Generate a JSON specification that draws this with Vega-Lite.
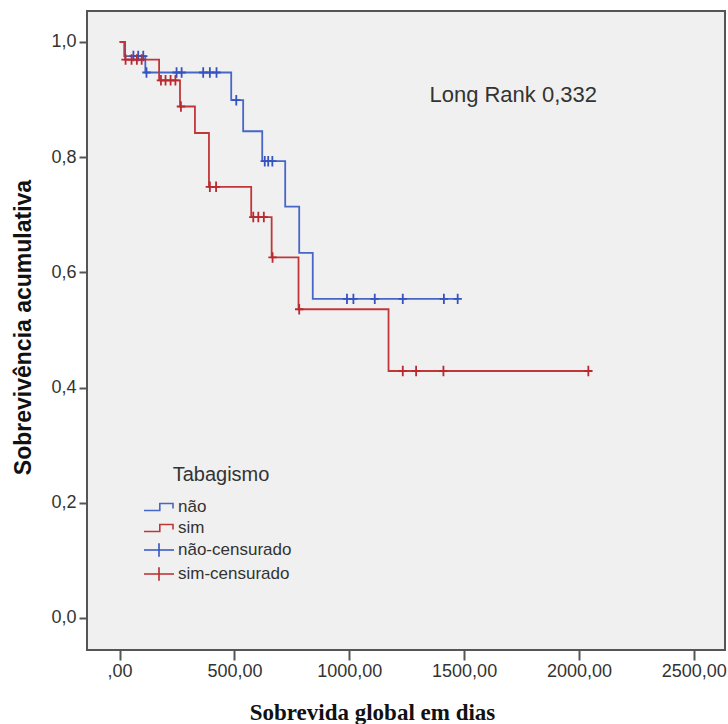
{
  "$schema": "https://vega.github.io/schema/vega-lite/v6.json",
  "width": 638,
  "height": 639,
  "autosize": {"type": "none"},
  "padding": {"left": 87, "top": 11, "right": 3, "bottom": 74},
  "background": "white",
  "config": {
    "font": "Liberation Sans",
    "view": {"fill": "#f0f0f0", "stroke": "#555555", "strokeWidth": 2}
  },
  "datasets": {
    "curvas": [
      {"grupo": "não", "t": 0, "s": 1.0},
      {"grupo": "não", "t": 20, "s": 0.9755},
      {"grupo": "não", "t": 112, "s": 0.947},
      {"grupo": "não", "t": 486, "s": 0.899},
      {"grupo": "não", "t": 538, "s": 0.845},
      {"grupo": "não", "t": 621, "s": 0.793},
      {"grupo": "não", "t": 721, "s": 0.714},
      {"grupo": "não", "t": 782, "s": 0.634},
      {"grupo": "não", "t": 841, "s": 0.554},
      {"grupo": "não", "t": 1472, "s": 0.554},
      {"grupo": "sim", "t": 0, "s": 1.0},
      {"grupo": "sim", "t": 24, "s": 0.9694},
      {"grupo": "sim", "t": 172, "s": 0.9335},
      {"grupo": "sim", "t": 263, "s": 0.888},
      {"grupo": "sim", "t": 328, "s": 0.842},
      {"grupo": "sim", "t": 389, "s": 0.7486},
      {"grupo": "sim", "t": 573, "s": 0.696},
      {"grupo": "sim", "t": 662, "s": 0.626},
      {"grupo": "sim", "t": 779, "s": 0.536},
      {"grupo": "sim", "t": 1171, "s": 0.4288},
      {"grupo": "sim", "t": 2041, "s": 0.4288}
    ],
    "censuras": [
      {"grupo": "não-censurado", "t": 60, "s": 0.9755},
      {"grupo": "não-censurado", "t": 81, "s": 0.9755},
      {"grupo": "não-censurado", "t": 103, "s": 0.9755},
      {"grupo": "não-censurado", "t": 117, "s": 0.947},
      {"grupo": "não-censurado", "t": 248, "s": 0.947},
      {"grupo": "não-censurado", "t": 270, "s": 0.947},
      {"grupo": "não-censurado", "t": 364, "s": 0.947},
      {"grupo": "não-censurado", "t": 393, "s": 0.947},
      {"grupo": "não-censurado", "t": 422, "s": 0.947},
      {"grupo": "não-censurado", "t": 508, "s": 0.899},
      {"grupo": "não-censurado", "t": 632, "s": 0.793},
      {"grupo": "não-censurado", "t": 647, "s": 0.793},
      {"grupo": "não-censurado", "t": 665, "s": 0.793},
      {"grupo": "não-censurado", "t": 990, "s": 0.554},
      {"grupo": "não-censurado", "t": 1018, "s": 0.554},
      {"grupo": "não-censurado", "t": 1111, "s": 0.554},
      {"grupo": "não-censurado", "t": 1233, "s": 0.554},
      {"grupo": "não-censurado", "t": 1412, "s": 0.554},
      {"grupo": "não-censurado", "t": 1472, "s": 0.554},
      {"grupo": "sim-censurado", "t": 26, "s": 0.9694},
      {"grupo": "sim-censurado", "t": 52, "s": 0.9694},
      {"grupo": "sim-censurado", "t": 75, "s": 0.9694},
      {"grupo": "sim-censurado", "t": 96, "s": 0.9694},
      {"grupo": "sim-censurado", "t": 180, "s": 0.9335},
      {"grupo": "sim-censurado", "t": 200, "s": 0.9335},
      {"grupo": "sim-censurado", "t": 222, "s": 0.9335},
      {"grupo": "sim-censurado", "t": 243, "s": 0.9335},
      {"grupo": "sim-censurado", "t": 267, "s": 0.888},
      {"grupo": "sim-censurado", "t": 393, "s": 0.7486},
      {"grupo": "sim-censurado", "t": 420, "s": 0.7486},
      {"grupo": "sim-censurado", "t": 582, "s": 0.696},
      {"grupo": "sim-censurado", "t": 604, "s": 0.696},
      {"grupo": "sim-censurado", "t": 628, "s": 0.696},
      {"grupo": "sim-censurado", "t": 666, "s": 0.626},
      {"grupo": "sim-censurado", "t": 782, "s": 0.536},
      {"grupo": "sim-censurado", "t": 1233, "s": 0.4288},
      {"grupo": "sim-censurado", "t": 1291, "s": 0.4288},
      {"grupo": "sim-censurado", "t": 1410, "s": 0.4288},
      {"grupo": "sim-censurado", "t": 2041, "s": 0.4288}
    ],
    "anotacao": [
      {"t": 1349, "s": 0.896, "texto": "Long Rank 0,332"}
    ]
  },
  "encoding": {
    "x": {
      "field": "t",
      "type": "quantitative",
      "scale": {"domain": [-142, 2636], "nice": false, "zero": false},
      "axis": {
        "title": "Sobrevida global em dias",
        "values": [0, 500, 1000, 1500, 2000, 2500],
        "grid": false,
        "domain": false,
        "tickColor": "#555555",
        "tickWidth": 2,
        "tickSize": 10,
        "labelFontSize": 18,
        "labelColor": "#333333",
        "labelPadding": 2,
        "labelExpr": "datum.value == 0 ? ',00' : replace(format(datum.value, '.2f'), '.', ',')",
        "titleFont": "Liberation Serif",
        "titleFontSize": 23,
        "titleFontWeight": "bold",
        "titleColor": "#111111",
        "titleX": 285,
        "titleY": 69,
        "titleAlign": "center",
        "titleBaseline": "alphabetic"
      }
    },
    "y": {
      "field": "s",
      "type": "quantitative",
      "scale": {"domain": [-0.0556, 1.0538], "nice": false, "zero": false},
      "axis": {
        "title": "Sobrevivência acumulativa",
        "values": [0, 0.2, 0.4, 0.6, 0.8, 1.0],
        "grid": false,
        "domain": false,
        "tickColor": "#555555",
        "tickWidth": 2,
        "tickSize": 8,
        "labelFontSize": 18,
        "labelColor": "#333333",
        "labelPadding": 3,
        "labelExpr": "replace(format(datum.value, '.1f'), '.', ',')",
        "titleFontSize": 23,
        "titleFontWeight": "bold",
        "titleColor": "#111111",
        "titleX": -57,
        "titleY": 316,
        "titleAngle": -90,
        "titleAlign": "center",
        "titleBaseline": "alphabetic"
      }
    }
  },
  "layer": [
    {
      "data": {"name": "curvas"},
      "mark": {"type": "line", "interpolate": "step-after", "strokeWidth": 1.8},
      "encoding": {
        "color": {
          "field": "grupo",
          "type": "nominal",
          "scale": {
            "domain": ["não", "sim", "não-censurado", "sim-censurado"],
            "range": ["#4666c8", "#c0373a", "#3553c0", "#b82a30"]
          },
          "legend": {
            "title": "Tabagismo",
            "orient": "none",
            "legendX": 63,
            "legendY": 454,
            "padding": 0,
            "titleFontSize": 20,
            "titleFontWeight": "normal",
            "titleColor": "#333333",
            "titleAnchor": "middle",
            "titlePadding": 13,
            "labelFontSize": 17,
            "labelColor": "#333333",
            "labelOffset": 10,
            "symbolSize": 256,
            "symbolStrokeWidth": 1.6,
            "rowPadding": 4,
            "encode": {
              "symbols": {
                "update": {
                  "shape": {"signal": "test(/censurado/, datum.value) ? 'M-1.875,0H1.875M0,-0.84V0.84' : 'M-1.875,0.44H0.1V-0.44H1.75V0.19'"},
                  "fill": {"value": "transparent"},
                  "strokeWidth": {"value": 1.6}
                }
              }
            }
          }
        }
      }
    },
    {
      "data": {"name": "censuras"},
      "mark": {"type": "point", "shape": "M-0.8,0H0.8M0,-1V1", "filled": false, "size": 110, "strokeWidth": 1.8, "opacity": 1},
      "encoding": {
        "color": {"field": "grupo", "type": "nominal"}
      }
    },
    {
      "data": {"name": "anotacao"},
      "mark": {"type": "text", "align": "left", "baseline": "alphabetic", "fontSize": 22, "color": "#333333"},
      "encoding": {
        "text": {"field": "texto", "type": "nominal"}
      }
    }
  ]
}
